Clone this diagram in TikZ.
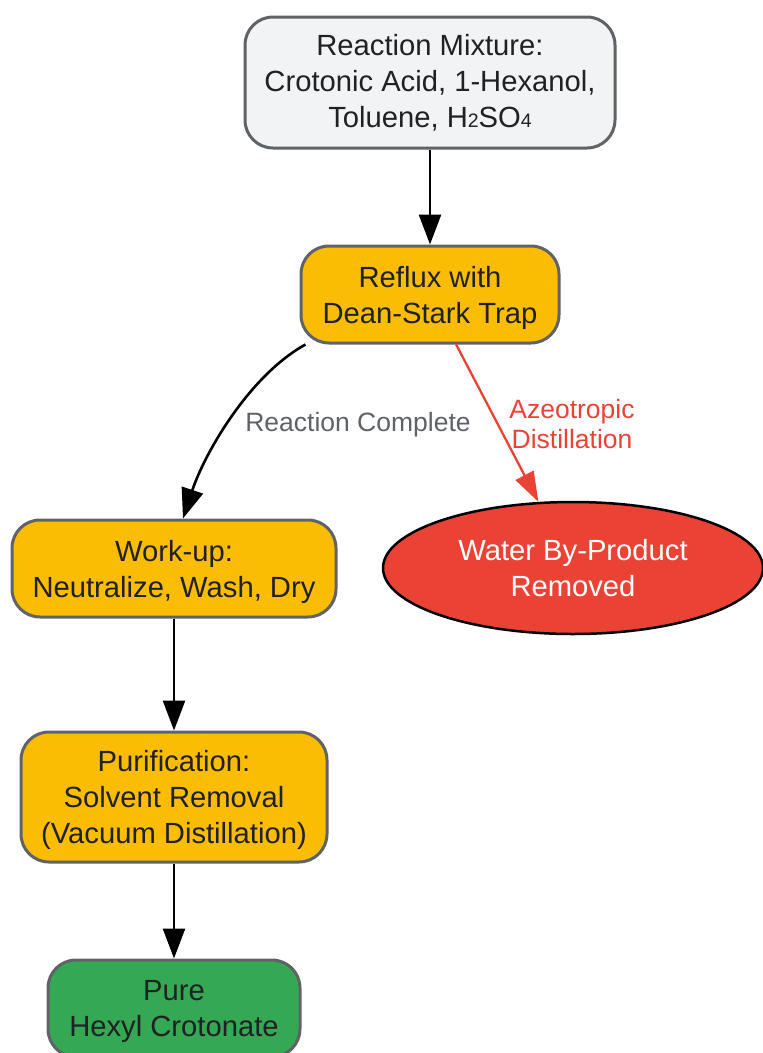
\documentclass[tikz,border=0pt]{standalone}
\usepackage{fontspec}
\setmainfont{Liberation Sans}
\usetikzlibrary{shapes.geometric,arrows.meta}
\definecolor{gborder}{HTML}{5F6368}
\definecolor{tdark}{HTML}{202124}
\definecolor{lgray}{HTML}{F1F3F4}
\definecolor{gyellow}{HTML}{FBBC04}
\definecolor{ggreen}{HTML}{34A853}
\definecolor{gred}{HTML}{EA4335}
\newcommand{\sub}[1]{{\fontsize{19.5}{19.5}\selectfont #1}}
\tikzset{
  box/.style={rectangle, rounded corners=28, draw=gborder, line width=3, text=tdark,
    align=center, font=\fontsize{29.2}{36}\selectfont, inner sep=0},
  conn/.style={draw=black, line width=2.6, -{Triangle[length=30,width=22]}},
  lbl/.style={align=center, font=\fontsize{26.5}{30}\selectfont, inner sep=0}
}
\begin{document}
\begin{tikzpicture}[x=1pt,y=-1pt]
\path[use as bounding box] (0,0) rectangle (763,1053);
\clip (0,0) rectangle (763,1053);
\node[box, fill=lgray, minimum width=370, minimum height=131] (mix) at (430,82.5)
  {Reaction Mixture:\\Crotonic Acid, 1-Hexanol,\\Toluene, H\sub{2}SO\sub{4}};
\node[box, fill=gyellow, minimum width=258, minimum height=97] (reflux) at (430,294.5)
  {Reflux with\\\smash{Dean-Stark Trap}};
\node[box, fill=gyellow, minimum width=324, minimum height=97] (workup) at (174,568.5)
  {Work-up:\\\smash{Neutralize, Wash, Dry}};
\node[box, fill=gyellow, minimum width=306, minimum height=130] (purif) at (174,797)
  {Purification:\\Solvent Removal\\\smash{(Vacuum Distillation)}};
\node[box, fill=ggreen, minimum width=252, minimum height=97] (pure) at (174,1008.5)
  {Pure\\\smash{Hexyl Crotonate}};
\node[ellipse, draw=black, line width=2.5, fill=gred, text=white, align=center,
  font=\fontsize{29.2}{36}\selectfont, minimum width=380, minimum height=132, inner sep=0]
  (water) at (573,568) {Water By-Product\\Removed};
\draw[conn] (mix.south) -- (reflux.north);
\draw[conn] ([xshift=6]reflux.south west) .. controls (250,375) and (205,452) .. ([xshift=9]workup.north);
\draw[conn, draw=gred, line width=2.3, -{Triangle[length=30,width=20]}] (reflux) -- (water);
\draw[conn] (workup.south) -- (purif.north);
\draw[conn] (purif.south) -- (pure.north);
\node[lbl, text=gborder] (l1) at (358,425) {Reaction Complete};
\node[lbl, text=gred] (l2) at (572,424) {Azeotropic\\Distillation};
\end{tikzpicture}
\end{document}
